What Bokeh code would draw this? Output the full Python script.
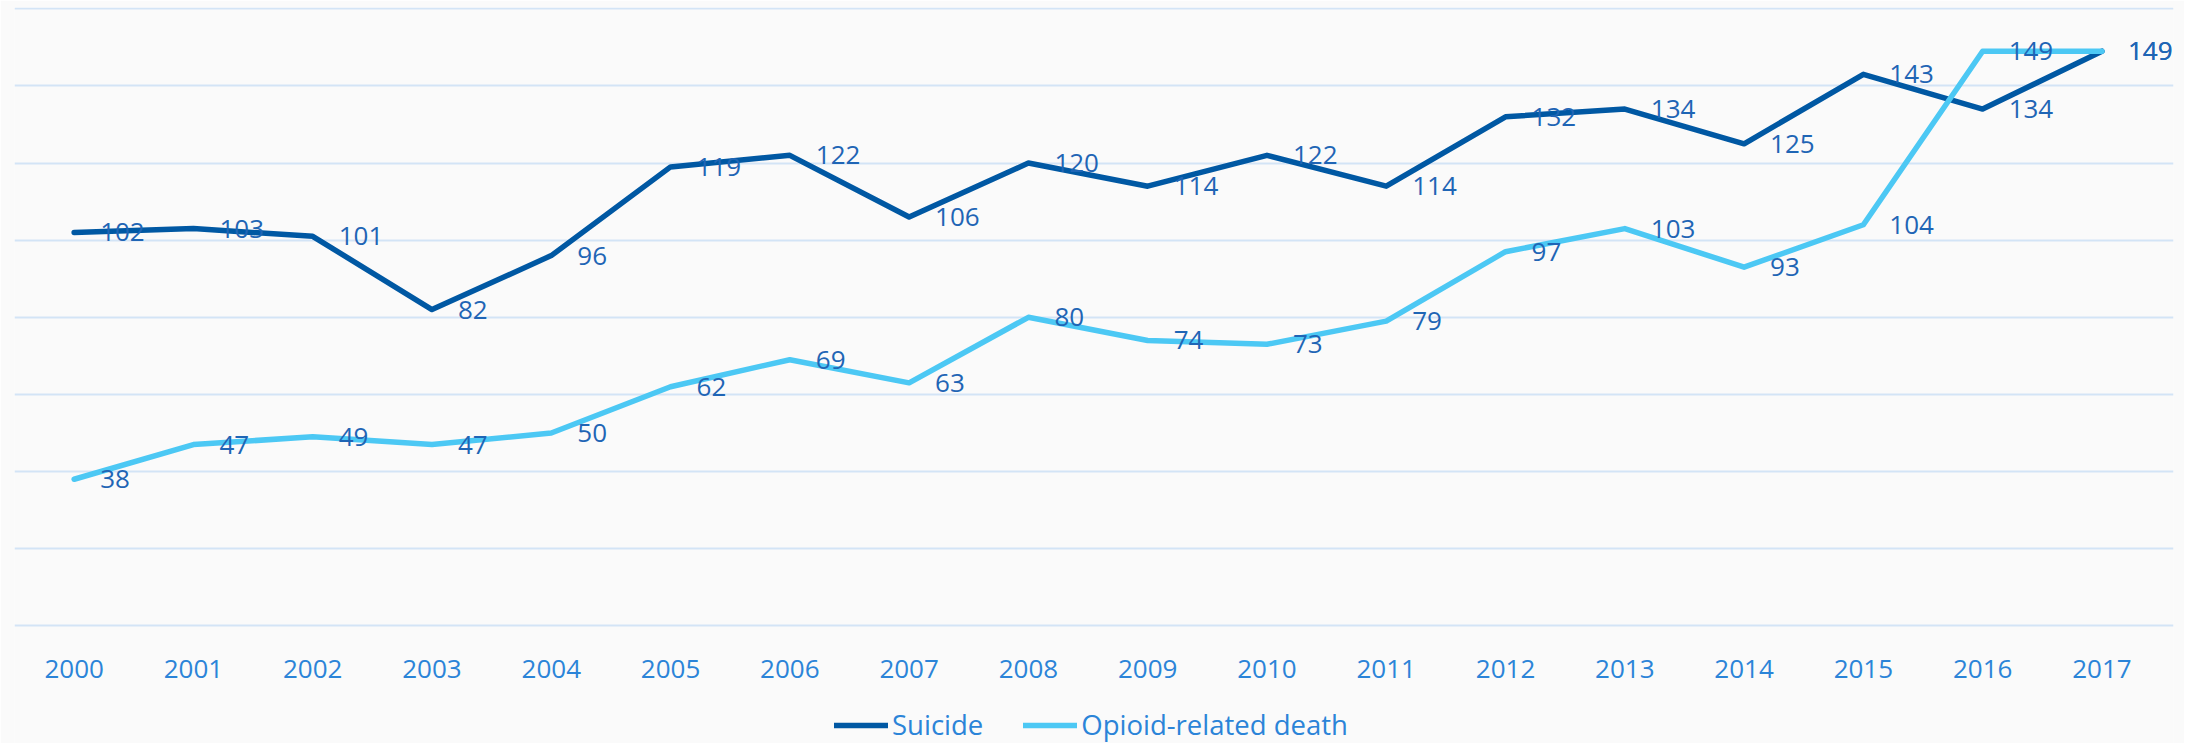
from bokeh.plotting import figure
from bokeh.models import ColumnDataSource, Range1d, Legend, LegendItem, LabelSet, FixedTicker
from bokeh.core.properties import value
from bokeh.embed import file_html
from bokeh.resources import INLINE

years = list(range(2000, 2018))
suicide = [102, 103, 101, 82, 96, 119, 122, 106, 120, 114, 122, 114, 132, 134, 125, 143, 134, 149]
opioid = [38, 47, 49, 47, 50, 62, 69, 63, 80, 74, 73, 79, 97, 103, 93, 104, 149, 149]
grid_levels = [0, 20, 40, 60, 80, 100, 120, 140, 160]

FONT = "Open Sans"
BG = "#fafafa"
C_SUI = "#0058a3"
C_OPI = "#4cc8f4"
C_LBL = "#1f65b5"
C_AX = "#2b84d8"
FS = "26px"

src = ColumnDataSource(dict(year=years, suicide=suicide, opioid=opioid,
                            s_txt=[str(v) for v in suicide], o_txt=[str(v) for v in opioid]))

p = figure(width=2184, height=743,
           x_range=Range1d(1999.5, 2017.6), y_range=Range1d(-30.53, 160.34),
           min_border_left=14, min_border_right=11, min_border_top=7, min_border_bottom=0,
           output_backend="svg", toolbar_location=None,
           background_fill_color=BG, border_fill_color=BG, outline_line_color=None)

r1 = p.line("year", "suicide", source=src, line_color=C_SUI, line_width=5.5, line_cap="round", line_join="round")
r2 = p.line("year", "opioid", source=src, line_color=C_OPI, line_width=5.5, line_cap="round", line_join="round")

for col, ycol in (("o_txt", "opioid"), ("s_txt", "suicide")):
    ls = LabelSet(x="year", y=ycol, text=col, source=src, x_offset=26, y_offset=0,
                  text_align="left", text_baseline="middle", text_font=value(FONT),
                  text_font_size=value(FS), text_color=value(C_LBL))
    p.add_layout(ls)

p.yaxis.visible = False
p.ygrid.ticker = FixedTicker(ticks=grid_levels)
p.ygrid.grid_line_color = "#d3e4f6"
p.ygrid.grid_line_width = 2
p.xgrid.grid_line_color = None

ax = p.xaxis[0]
ax.fixed_location = 0
ax.ticker = FixedTicker(ticks=years)
ax.axis_line_color = None
ax.major_tick_line_color = None
ax.minor_tick_line_color = None
ax.major_label_standoff = 28
ax.major_label_text_font = FONT
ax.major_label_text_font_size = FS
ax.major_label_text_color = C_AX

legend = Legend(items=[LegendItem(label="Suicide", renderers=[r1]),
                       LegendItem(label="Opioid-related death", renderers=[r2])],
                orientation="horizontal", location=(820, 0),
                label_text_font=FONT, label_text_font_size="27.5px", label_text_color=C_AX,
                glyph_width=54, glyph_height=24, label_standoff=4, spacing=40,
                padding=0, margin=0, border_line_color=None, background_fill_alpha=0,
                label_height=24)
p.add_layout(legend, "center")

open("out.html", "w").write(file_html(p, INLINE))
